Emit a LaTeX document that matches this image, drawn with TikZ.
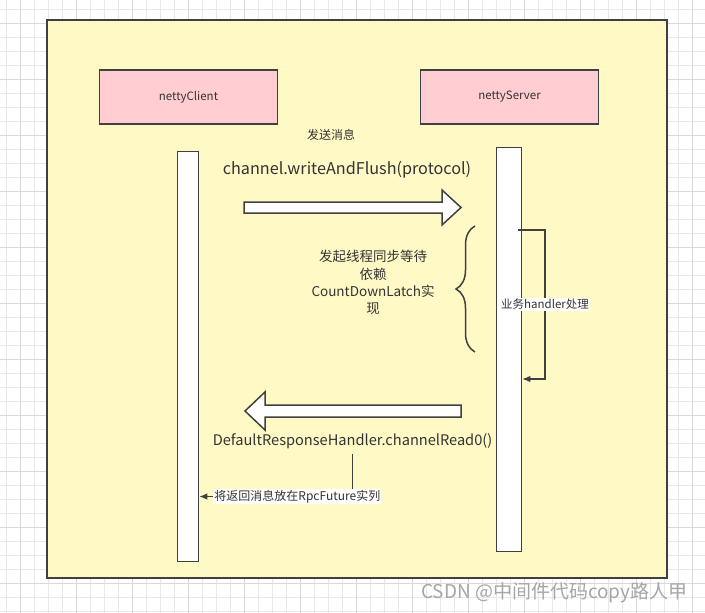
\documentclass[tikz,border=0pt]{standalone}
\usepackage{fontspec}
\setmainfont{Noto Sans CJK SC}
\usepackage{tikz}
\usetikzlibrary{arrows.meta,decorations.pathreplacing}

\definecolor{gridminor}{HTML}{E8E8E8}
\definecolor{gridmajor}{HTML}{D9D9D9}
\definecolor{boxyellow}{HTML}{FFF9C6}
\definecolor{boxpink}{HTML}{FFCDD2}
\definecolor{edgegray}{HTML}{404040}
\definecolor{txtgray}{HTML}{333333}

\begin{document}
\begin{tikzpicture}[x=1pt,y=-1pt,
	actor/.style={draw=edgegray, line width=1.5pt, fill=boxpink, minimum width=178pt, minimum height=54pt, text=txtgray, font=\fontsize{11.5}{14}\selectfont},
	lifeline/.style={draw=edgegray, line width=1.6pt, fill=white, inner sep=0pt},
	blockarrow/.style={draw=edgegray, line width=1.5pt, fill=white, line join=miter},
	msg/.style={draw=edgegray, line width=1.2pt, -{Latex[length=8pt,width=6.5pt]}},
	lbl/.style={fill=white, inner sep=1pt, text=txtgray, font=\fontsize{11.5}{14}\selectfont},
	note/.style={text=txtgray, align=center}]
	
	\useasboundingbox (0,0) rectangle (705,613);
	\fill[white] (0,0) rectangle (705,613);
	
	% grid
	\foreach \i in {0,...,50}{
		\draw[gridminor, line width=0.7pt] ({6.5+14*\i},0) -- ({6.5+14*\i},613);
		\draw[gridminor, line width=0.7pt] (0,{9.3+14*\i}) -- (705,{9.3+14*\i});
	}
	\foreach \i in {0,...,12}{
		\draw[gridmajor, line width=0.9pt] ({20.7+56*\i},0) -- ({20.7+56*\i},613);
		\draw[gridmajor, line width=0.9pt] (0,{23.3+56*\i}) -- (705,{23.3+56*\i});
	}
	
	% frame
	\node[draw=edgegray, line width=1.5pt, fill=boxyellow, minimum width=620pt, minimum height=558pt, inner sep=0pt] (frame) at (357,299) {};
	
	\node[actor] (client) at (188.5,97) {nettyClient};
	\node[actor] (server) at (509.5,97) {nettyServer};
	
	\node[lifeline, minimum width=21pt, minimum height=410pt] (cline) at (188,356.5) {};
	\node[lifeline, minimum width=25pt, minimum height=404pt] (sline) at (509,349.5) {};
	
	\node[note, font=\fontsize{12}{14}\selectfont] (sendlbl) at (331,135) {发送消息};
	\node[note, font=\fontsize{16.2}{19}\selectfont] (writelbl) at (347,170) {channel.writeAndFlush(protocol)};
	
	\draw[blockarrow] (244,202) -- (442,202) -- (442,190) -- (461,207.5) -- (442,225) -- (442,213) -- (244,213) -- cycle;
	
	\node[note, font=\fontsize{13.5}{17.2}\selectfont] (waitlbl) at (373,282.5) {发起线程同步等待\\依赖\\CountDownLatch实\\现};
	\draw[edgegray, line width=1.5pt, decorate, decoration={brace, amplitude=19pt}] (475,352) -- (475,226);
	
	% self call on the server
	\coordinate (selfstart) at (518,230);
	\coordinate (selfend) at (sline.east |- 0,379);
	\draw[msg] (selfstart) -| (545,379) node[lbl, pos=0.75] (handlelbl) {业务handler处理} -- (selfend);
	
	\draw[blockarrow] (461,405) -- (265,405) -- (265,392) -- (245,411) -- (265,430) -- (265,417) -- (461,417) -- cycle;
	
	\node[note, font=\fontsize{14.6}{17}\selectfont] (readlbl) at (352.5,441.5) {DefaultResponseHandler.channelRead0()};
	
	\coordinate (readout) at (352.5,454);
	\draw[msg] (readout) |- (cline.east |- 0,496.5) node[lbl, pos=0.68, font=\fontsize{12}{14}\selectfont] (putlbl) {将返回消息放在RpcFuture实列};
	
	\node[anchor=east, text=gray!70, font=\fontsize{19}{21}\selectfont] (mark) at (691,593) {CSDN @中间件代码copy路人甲};
	
\end{tikzpicture}
\end{document}
